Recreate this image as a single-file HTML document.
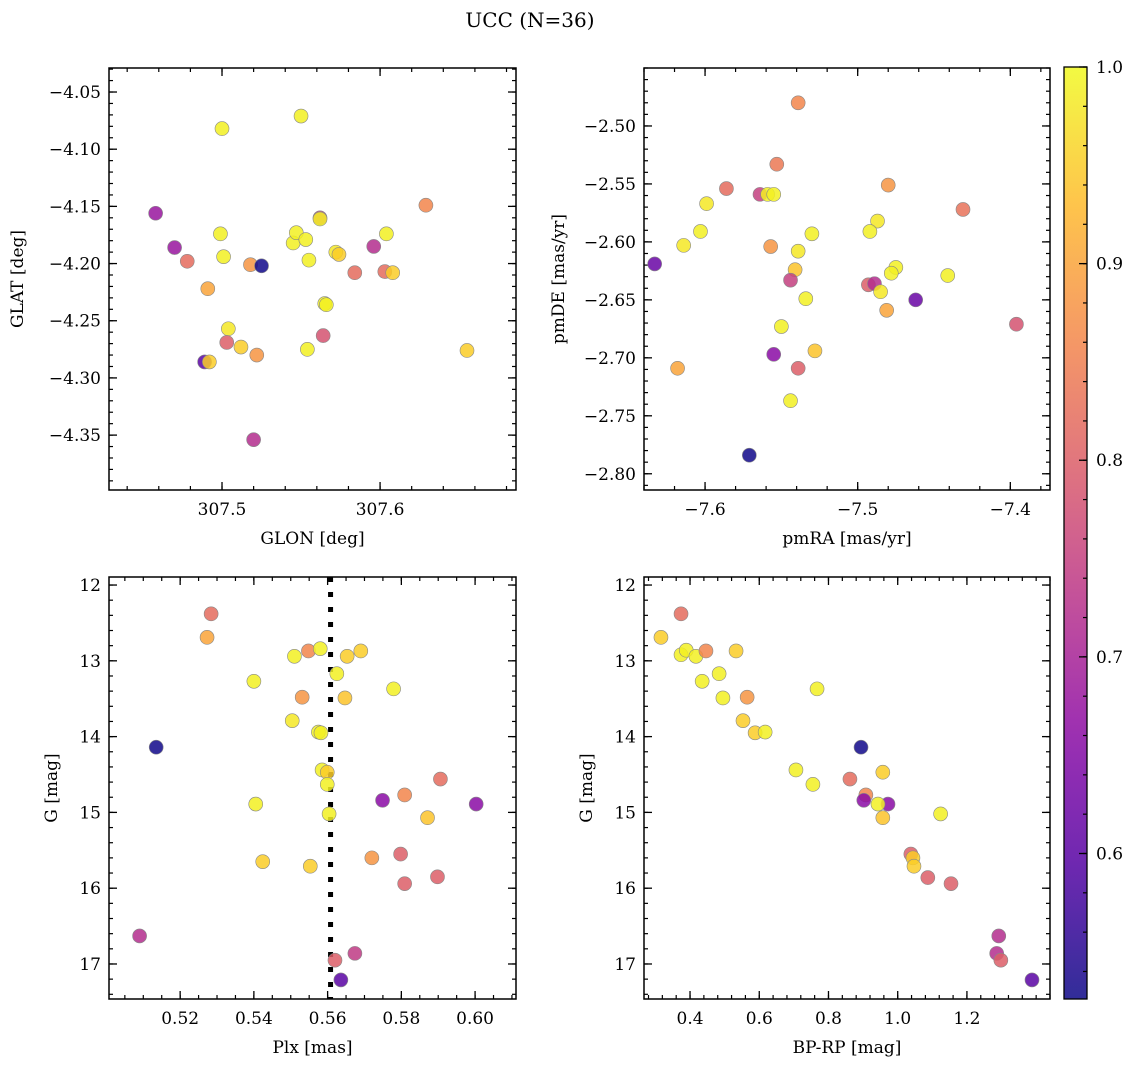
<!DOCTYPE html>
<html><head><meta charset="utf-8"><style>
body{margin:0;background:#fff}
svg{display:block;font-family:"DejaVu Serif","Liberation Serif",serif}
</style></head><body>
<svg id="fig" width="1136" height="1067" viewBox="0 0 1136 1067">
<text x="530" y="27" text-anchor="middle" font-size="20">UCC (N=36)</text>
</svg>
<script>
// ---- data ----
const glon=[307.5,307.550,307.458,307.470,307.478,307.499,307.501,307.518,307.525,307.491,307.504,307.503,307.512,307.522,307.489,307.492,307.520,307.545,307.547,307.553,307.555,307.562,307.562,307.565,307.564,307.554,307.572,307.574,307.584,307.596,307.604,307.603,307.608,307.629,307.655,307.566];
const glat=[-4.082,-4.071,-4.156,-4.186,-4.198,-4.174,-4.194,-4.201,-4.202,-4.222,-4.257,-4.269,-4.273,-4.280,-4.286,-4.286,-4.354,-4.182,-4.173,-4.179,-4.197,-4.160,-4.161,-4.235,-4.263,-4.275,-4.190,-4.192,-4.208,-4.185,-4.174,-4.207,-4.208,-4.149,-4.276,-4.236];
const probTL=[.99,.99,.68,.68,.82,.99,.99,.88,.53,.9,.98,.8,.95,.88,.6,.95,.72,.99,.99,.99,.99,.75,.99,.99,.78,.99,.98,.95,.82,.72,.99,.82,.95,.86,.95,.99];
const pmra=[-7.539,-7.586,-7.553,-7.564,-7.559,-7.555,-7.599,-7.48,-7.431,-7.614,-7.603,-7.557,-7.539,-7.530,-7.487,-7.492,-7.633,-7.541,-7.544,-7.534,-7.55,-7.493,-7.489,-7.485,-7.481,-7.475,-7.478,-7.462,-7.441,-7.396,-7.618,-7.555,-7.528,-7.539,-7.544,-7.571];
const pmde=[-2.480,-2.554,-2.533,-2.559,-2.559,-2.559,-2.567,-2.551,-2.572,-2.603,-2.591,-2.604,-2.608,-2.593,-2.582,-2.591,-2.619,-2.624,-2.633,-2.649,-2.673,-2.637,-2.636,-2.643,-2.659,-2.622,-2.627,-2.650,-2.629,-2.671,-2.709,-2.697,-2.694,-2.709,-2.737,-2.784];
const probTR=[.86,.82,.84,.75,.99,.99,.98,.88,.83,.98,.99,.88,.98,.99,.98,.99,.62,.94,.75,.99,.99,.8,.72,.98,.9,.99,.99,.62,.99,.78,.9,.66,.94,.8,.99,.53];
const plx=[.5284,.5273,.551,.5548,.558,.5653,.569,.5625,.5647,.5779,.540,.5531,.5504,.5575,.5135,.5585,.5599,.5599,.5604,.5405,.5749,.5809,.5906,.6003,.5871,.5424,.5553,.572,.5798,.5809,.5898,.509,.562,.5674,.5636,.5582];
const gmagL=[12.38,12.69,12.94,12.87,12.84,12.94,12.87,13.17,13.49,13.37,13.27,13.48,13.79,13.94,14.14,14.44,14.47,14.63,15.02,14.89,14.84,14.77,14.56,14.89,15.07,15.65,15.71,15.60,15.55,15.94,15.85,16.63,16.95,16.86,17.21,13.95];
const probBL=[.82,.9,.99,.86,.99,.95,.95,.99,.94,.99,.99,.88,.98,.99,.53,.99,.95,.99,.99,.99,.66,.86,.82,.66,.94,.95,.95,.88,.8,.8,.8,.72,.8,.74,.6,.99];
const bprp=[.316,.374,.374,.389,.417,.446,.533,.435,.484,.495,.565,.553,.588,.617,.767,.894,.706,.862,.957,.755,.908,.902,.972,.943,.957,1.124,1.038,1.044,1.047,1.087,1.154,1.292,1.286,1.298,1.388];
const gmagR=[12.69,12.38,12.92,12.86,12.94,12.87,12.87,13.27,13.17,13.49,13.48,13.79,13.95,13.94,13.37,14.14,14.44,14.56,14.47,14.63,14.77,14.84,14.89,14.89,15.07,15.02,15.55,15.60,15.71,15.86,15.94,16.63,16.86,16.95,17.21];
const probBR=[.95,.82,.99,.99,.99,.86,.95,.99,.99,.99,.88,.95,.95,.99,.99,.53,.99,.82,.95,.99,.86,.66,.66,.99,.94,.99,.8,.95,.95,.8,.8,.72,.72,.8,.6];
const plxLine=0.5608;
const cbTicks=[0.6,0.7,0.8,0.9,1.0];
const vmin=0.526, vmax=1.0;

const NS='http://www.w3.org/2000/svg';
const svg=document.getElementById('fig');
function mk(tag,attrs,parent){const e=document.createElementNS(NS,tag);for(const k in attrs)e.setAttribute(k,attrs[k]);(parent||svg).appendChild(e);return e;}
const plasma=[[13,8,135],[84,2,163],[139,10,165],[185,50,137],[219,92,104],[244,136,73],[254,188,43],[240,249,33]];
function cmap(v){let t=Math.max(0,Math.min(1,(v-vmin)/(vmax-vmin)))*(plasma.length-1);const i=Math.min(plasma.length-2,Math.floor(t)),f=t-i;const a=plasma[i],b=plasma[i+1];return 'rgb('+a.map((c,j)=>Math.round(c+(b[j]-c)*f)).join(',')+')';}

function panel(o){
  const g=mk('g',{});
  
  
  const sx=v=>o.x0+(v-o.xl[0])/(o.xl[1]-o.xl[0])*(o.x1-o.x0);
  const sy=o.invert?(v=>o.y0+(v-o.yl[0])/(o.yl[1]-o.yl[0])*(o.y1-o.y0)):(v=>o.y1-(v-o.yl[0])/(o.yl[1]-o.yl[0])*(o.y1-o.y0));
  const eps=1e-9;
  const tk=(lo,hi,step)=>{const a=[];for(let v=Math.ceil(lo/step-eps)*step;v<=hi+eps;v+=step)a.push(+v.toFixed(6));return a;};
  const xlo=Math.min(...o.xl),xhi=Math.max(...o.xl),ylo=Math.min(...o.yl),yhi=Math.max(...o.yl);
  tk(xlo,xhi,o.xminor).forEach(v=>{const X=sx(v);mk('line',{x1:X,x2:X,y1:o.y1,y2:o.y1-4,stroke:'#000','stroke-width':1.2},g);mk('line',{x1:X,x2:X,y1:o.y0,y2:o.y0+4,stroke:'#000','stroke-width':1.2},g);});
  tk(ylo,yhi,o.yminor).forEach(v=>{const Y=sy(v);mk('line',{x1:o.x0,x2:o.x0+4,y1:Y,y2:Y,stroke:'#000','stroke-width':1.2},g);mk('line',{x1:o.x1,x2:o.x1-4,y1:Y,y2:Y,stroke:'#000','stroke-width':1.2},g);});
  o.xt.forEach(v=>{const X=sx(v);mk('line',{x1:X,x2:X,y1:o.y1,y2:o.y1-8,stroke:'#000','stroke-width':1.3},g);mk('line',{x1:X,x2:X,y1:o.y0,y2:o.y0+8,stroke:'#000','stroke-width':1.3},g);
    const t=mk('text',{x:X,y:o.y1+25,'text-anchor':'middle','font-size':17},g);t.textContent=(v<0?'\u2212':'')+Math.abs(v).toFixed(o.xd);});
  o.yt.forEach(v=>{const Y=sy(v);mk('line',{x1:o.x0,x2:o.x0+8,y1:Y,y2:Y,stroke:'#000','stroke-width':1.3},g);mk('line',{x1:o.x1,x2:o.x1-8,y1:Y,y2:Y,stroke:'#000','stroke-width':1.3},g);
    const t=mk('text',{x:o.x0-8,y:Y+6,'text-anchor':'end','font-size':17},g);t.textContent=(v<0?'\u2212':'')+Math.abs(v).toFixed(o.yd);});
  if(o.vline!==undefined){const l=mk('line',{x1:sx(o.vline),x2:sx(o.vline),y1:o.y0,y2:o.y1,stroke:'#000','stroke-width':5,'stroke-dasharray':'5,10'},g);}
  o.xs.forEach((v,i)=>{const c=mk('circle',{cx:sx(v),cy:sy(o.ys[i]),r:7,fill:cmap(o.c[i]),'fill-opacity':0.85,stroke:'#888','stroke-width':0.6},g);
    });
  mk('rect',{x:o.x0,y:o.y0,width:o.x1-o.x0,height:o.y1-o.y0,fill:'none',stroke:'#000','stroke-width':1.5},g);
  const xl=mk('text',{x:(o.x0+o.x1)/2,y:o.y1+54,'text-anchor':'middle','font-size':17},g);xl.textContent=o.xlab;
  const yx=o.x0-o.ylabOff,yy=(o.y0+o.y1)/2;
  const yl=mk('text',{x:yx,y:yy,'text-anchor':'middle','font-size':17,transform:'rotate(-90 '+yx+' '+yy+')'},g);yl.textContent=o.ylab;
}
panel({name:'glon-glat-panel',x0:109,x1:516,y0:68,y1:490,xl:[307.4285,307.686],yl:[-4.398,-4.029],xt:[307.5,307.6],xd:1,yt:[-4.35,-4.3,-4.25,-4.2,-4.15,-4.1,-4.05],yd:2,xminor:0.02,yminor:0.01,xs:glon,ys:glat,c:probTL,xlab:'GLON [deg]',ylab:'GLAT [deg]',ylabOff:86});
panel({name:'pm-panel',x0:644,x1:1050,y0:68,y1:490,xl:[-7.640,-7.374],yl:[-2.814,-2.45],xt:[-7.6,-7.5,-7.4],xd:1,yt:[-2.8,-2.75,-2.7,-2.65,-2.6,-2.55,-2.5],yd:2,xminor:0.02,yminor:0.01,xs:pmra,ys:pmde,c:probTR,xlab:'pmRA [mas/yr]',ylab:'pmDE [mas/yr]',ylabOff:80});
panel({name:'plx-g-panel',x0:109,x1:516,y0:577,y1:999,xl:[0.5007,0.6111],yl:[11.894,17.462],invert:true,xt:[0.52,0.54,0.56,0.58,0.60],xd:2,yt:[12,13,14,15,16,17],yd:0,xminor:0.005,yminor:0.2,xs:plx,ys:gmagL,c:probBL,vline:plxLine,xlab:'Plx [mas]',ylab:'G [mag]',ylabOff:52});
panel({name:'cmd-panel',x0:644,x1:1050,y0:577,y1:999,xl:[0.267,1.44],yl:[11.894,17.462],invert:true,xt:[0.4,0.6,0.8,1.0,1.2],xd:1,yt:[12,13,14,15,16,17],yd:0,xminor:0.04,yminor:0.2,xs:bprp,ys:gmagR,c:probBR,xlab:'BP-RP [mag]',ylab:'G [mag]',ylabOff:52});
const cb=mk('g',{});


const defs=mk('defs',{},cb);const lg=mk('linearGradient',{id:'cbg',x1:0,y1:1,x2:0,y2:0},defs);
for(let i=0;i<=20;i++){const v=vmin+(vmax-vmin)*i/20;mk('stop',{offset:(i/20),'stop-color':cmap(v),'stop-opacity':0.85},lg);}
const cy0=67,cy1=999,cx0=1064,cx1=1087;const csy=v=>cy1-(v-vmin)/(vmax-vmin)*(cy1-cy0);
mk('rect',{x:cx0,y:cy0,width:cx1-cx0,height:cy1-cy0,fill:'url(#cbg)',stroke:'#000','stroke-width':1.3},cb);
for(let v=0.54;v<=1.0001;v+=0.02){const Y=csy(v);mk('line',{x1:cx1,x2:cx1-4,y1:Y,y2:Y,stroke:'#000','stroke-width':1.2},cb);}
cbTicks.forEach(v=>{const Y=csy(v);mk('line',{x1:cx1,x2:cx1-8,y1:Y,y2:Y,stroke:'#000','stroke-width':1.3},cb);const t=mk('text',{x:1096,y:Y+6,'font-size':17},cb);t.textContent=v.toFixed(1);});
</script>
</body></html>
